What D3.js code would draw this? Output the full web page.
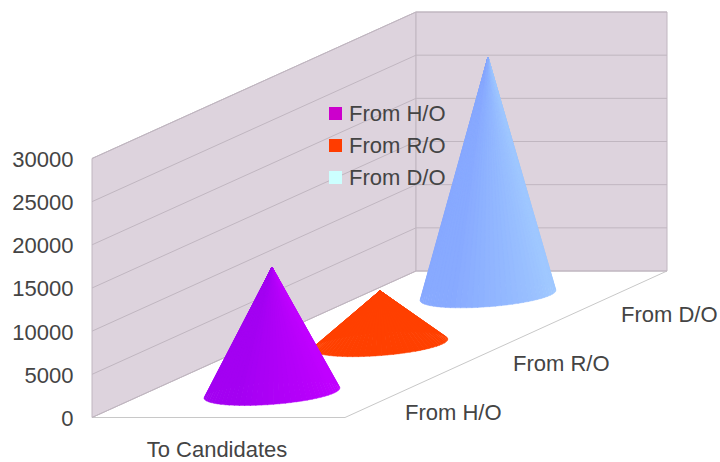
<!DOCTYPE html>
<html><head><meta charset="utf-8">
<style>html,body{margin:0;padding:0;background:#fff}svg{display:block}text{font-family:"Liberation Sans",Arial,sans-serif;font-size:22px;fill:#444}</style>
<script src="https://cdn.jsdelivr.net/npm/d3@7/dist/d3.min.js"></script>
</head><body><script>
const categories = ["To Candidates"];
const seriesNames = ["From H/O", "From R/O", "From D/O"];
const seriesValues = [14600, 6200, 27600];
const yTicks = [0, 5000, 10000, 15000, 20000, 25000, 30000];
const legendColors = ["#cc00cc", "#ff3c00", "#ccffff"];
const coneDark = ["#a400f2", "#ff4000", "#88aaff"];
const coneLight = ["#c000ff", "#ff4000", "#a0c8ff"];

const W = 720, H = 462;
const svg = d3.select("body").append("svg").attr("width", W).attr("height", H);
const x = d3.scaleBand().domain(categories).range([92, 345]);
const y = d3.scaleLinear().domain([0, 30000]).range([417.5, 158.5]);
const depth = d3.scaleBand().domain(seriesNames).range([0, 1]);
const DX = 324, DY = -146.5, RIGHT_DX = 322;
const pt = (px, t, py) => [px + DX * t, py + DY * t];
const poly = a => a.map(p => p.join(",")).join(" ");
const wall = "#ddd3dd", grid = "#c0b6c0", edge = "#c8c8c8";

// floor, walls
const x0 = x.range()[0], x1 = x.range()[1], y0 = y(0), yT = y(30000);
svg.append("polygon").attr("points", poly([[x0, y0], [x1, y0], [x1 + RIGHT_DX, y0 + DY], pt(x0, 1, y0)]))
  .attr("fill", "#fff");
svg.append("polygon").attr("points", poly([[x0, y0], [x0, yT], pt(x0, 1, yT), pt(x0, 1, y0)]))
  .attr("fill", wall).attr("stroke", grid);
svg.append("polygon").attr("points", poly([pt(x0, 1, y0), pt(x0, 1, yT), [x1 + RIGHT_DX, yT + DY], [x1 + RIGHT_DX, y0 + DY]]))
  .attr("fill", wall).attr("stroke", grid);
svg.append("polyline").attr("points", poly([[x0, y0], [x1, y0], [x1 + RIGHT_DX, y0 + DY]]))
  .attr("fill", "none").attr("stroke", edge);
yTicks.forEach(v => {
  svg.append("polyline").attr("fill", "none").attr("stroke", grid)
    .attr("points", poly([[x0, y(v)], pt(x0, 1, y(v)), [x1 + RIGHT_DX, y(v) + DY]]));
});

// y axis
const yAxis = d3.axisLeft(y).tickValues(yTicks).tickSize(0).tickPadding(0).tickFormat(d3.format("d"));
const gy = svg.append("g").attr("transform", "translate(73.5,0.2)").call(yAxis);
gy.select(".domain").remove();
gy.selectAll("text").attr("dy", "0.35em");
gy.attr("font-size", null).attr("font-family", null);

// category + depth labels
svg.selectAll(".cat").data(categories).join("text").attr("class", "cat")
  .attr("x", d => x(d) + x.bandwidth() / 2 - 1.5).attr("y", 457).attr("text-anchor", "middle").text(d => d);
svg.selectAll(".dep").data(seriesNames).join("text").attr("class", "dep")
  .attr("x", d => x1 + DX * (depth(d) + depth.bandwidth() / 2) + 6)
  .attr("y", d => y0 + DY * (depth(d) + depth.bandwidth() / 2) + 26.5)
  .text(d => d);

// legend
const leg = svg.selectAll(".leg").data(seriesNames).join("g").attr("class", "leg")
  .attr("transform", (d, i) => `translate(329,${107 + i * 32})`);
leg.append("rect").attr("width", 13).attr("height", 13).attr("fill", (d, i) => legendColors[i]);
leg.append("text").attr("x", 20).attr("y", 14).text(d => d);

// cones, back to front
const step = 5 * Math.PI / 180;
const angles = d3.range(0, 360, 5).map(d => d * Math.PI / 180);
const rx = x.bandwidth() * 0.245, rd = depth.bandwidth() * 0.255;
[2, 1, 0].forEach(i => {
  const name = seriesNames[i], cx = x(categories[0]) + x.bandwidth() / 2 - 0.5;
  const t = depth(name) + depth.bandwidth() / 2;
  const c = pt(cx, t, y0), apex = pt(cx, t, y(seriesValues[i]));
  const base = a => [c[0] + rx * Math.cos(a) + DX * rd * Math.sin(a), c[1] + DY * rd * Math.sin(a)];
  // shade across the visible front half, left to right
  const shade = d3.scaleLinear().domain([0, 0.45, 1]).range([coneDark[i], coneDark[i], coneLight[i]]).clamp(true);
  const g = svg.append("g");
  const facets = angles.map(a => ({ a, mid: a + step / 2 }))
    .sort((p, q) => Math.sin(q.mid) - Math.sin(p.mid));
  facets.forEach(f => {
    const frac = f.mid < Math.PI ? (f.mid < Math.PI / 2 ? 1 : 0) : (f.mid - Math.PI) / Math.PI;
    const col = shade(frac);
    g.append("polygon").attr("points", poly([apex, base(f.a), base(f.a + step * 1.1)]))
      .attr("fill", col).attr("stroke", col).attr("stroke-width", 0.4);
  });
});
</script></body></html>
